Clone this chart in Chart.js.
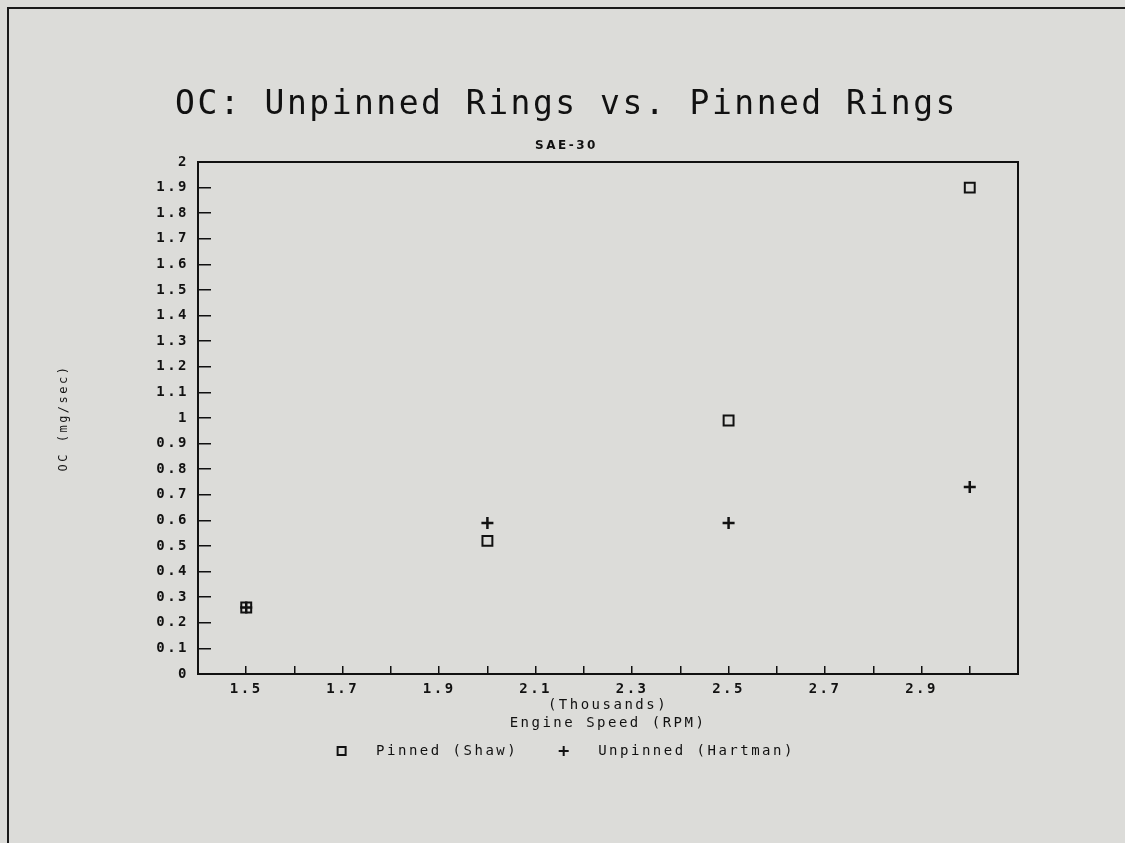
<!DOCTYPE html>
<html>
<head>
<meta charset="utf-8">
<script src="https://cdn.jsdelivr.net/npm/chart.js@4.4.1/dist/chart.umd.min.js"></script>
<style>
  html, body { margin: 0; padding: 0; background: #dcdcd9; }
  body { width: 1125px; height: 843px; overflow: hidden; position: relative; }
  #frame { position: absolute; left: 7px; top: 7px; right: -4px; bottom: -4px; border-top: 2px solid #1a1a1a; border-left: 2px solid #1a1a1a; }
  #wrap { position: absolute; left: 8px; top: 0; width: 1117px; height: 843px; }
</style>
</head>
<body>
<div id="frame"></div>
<div id="wrap"><canvas id="chart"></canvas></div>
<script>
// engine speed in thousands of RPM
const engineSpeed = [1.5, 2.0, 2.5, 3.0];
const pinnedShaw = [0.26, 0.52, 0.99, 1.90];
const unpinnedHartman = [0.26, 0.59, 0.59, 0.73];

// only every other x tick carries a label
const xTickLabels = [1.5, 1.7, 1.9, 2.1, 2.3, 2.5, 2.7, 2.9];
const yTickLabels = ["0", "0.1", "0.2", "0.3", "0.4", "0.5", "0.6", "0.7", "0.8", "0.9", "1",
                     "1.1", "1.2", "1.3", "1.4", "1.5", "1.6", "1.7", "1.8", "1.9", "2"];

const MONO = "'DejaVu Sans Mono', 'Liberation Mono', monospace";
const INK = "#111";

// legend marker images: the mark sits at the left of a wider transparent strip,
// so it lines up with the start of the legend box
function legendMark(kind) {
    const c = document.createElement("canvas");
    c.width = 36;
    c.height = 12;
    const g = c.getContext("2d");
    g.strokeStyle = INK;
    g.lineWidth = 2;
    if (kind === "square") {
        g.strokeRect(2, 2, 8, 8);
    } else {
        g.beginPath();
        g.moveTo(1, 6); g.lineTo(11, 6);
        g.moveTo(6, 1); g.lineTo(6, 11);
        g.stroke();
    }
    return c;
}
const legendMarks = [legendMark("square"), legendMark("cross")];

// plotter-style spaced lettering
const spacing = {
    id: "spacing",
    beforeUpdate(chart) { chart.ctx.letterSpacing = "2.5px"; },
    beforeLayout(chart) { chart.ctx.letterSpacing = "2.5px"; },
    beforeDraw(chart) { chart.ctx.letterSpacing = "2.5px"; }
};

// closed box round the plot area
const plotFrame = {
    id: "plotFrame",
    afterDraw(chart) {
        const a = chart.chartArea;
        const ctx = chart.ctx;
        ctx.save();
        ctx.strokeStyle = INK;
        ctx.lineWidth = 2;
        ctx.strokeRect(a.left, a.top, a.right - a.left, a.bottom - a.top);
        ctx.restore();
    }
};

new Chart(document.getElementById("chart"), {
    type: "scatter",
    data: {
        datasets: [
            {
                label: "Pinned (Shaw)",
                data: engineSpeed.map((x, i) => ({ x: x, y: pinnedShaw[i] })),
                pointStyle: "rect",
                pointRadius: 7,
                pointBorderWidth: 2,
                borderColor: INK,
                backgroundColor: "rgba(0,0,0,0)"
            },
            {
                label: "Unpinned (Hartman)",
                data: engineSpeed.map((x, i) => ({ x: x, y: unpinnedHartman[i] })),
                pointStyle: "cross",
                pointRadius: 6,
                pointBorderWidth: 2.5,
                borderColor: INK,
                backgroundColor: INK
            }
        ]
    },
    options: {
        responsive: true,
        maintainAspectRatio: false,
        animation: false,
        events: [],
        layout: { padding: { left: 0, right: 0, top: 0, bottom: 75 } },
        plugins: {
            title: {
                display: true,
                text: "OC: Unpinned Rings vs. Pinned Rings",
                color: INK,
                font: { family: MONO, size: 33, weight: "normal", lineHeight: 1.2 },
                padding: { top: 86, bottom: 0 }
            },
            subtitle: {
                display: true,
                text: "SAE-30",
                color: INK,
                font: { family: "'DejaVu Sans', sans-serif", size: 12, weight: "bold", lineHeight: 1.2 },
                padding: { top: 13, bottom: 9 }
            },
            legend: {
                position: "bottom",
                labels: {
                    usePointStyle: true,
                    pointStyleWidth: 31,
                    padding: 42,
                    color: INK,
                    font: { family: MONO, size: 14 },
                    generateLabels(chart) {
                        const items = Chart.defaults.plugins.legend.labels.generateLabels(chart);
                        items.forEach((it, i) => { it.pointStyle = legendMarks[i]; });
                        return items;
                    }
                }
            },
            tooltip: { enabled: false }
        },
        scales: {
            x: {
                type: "linear",
                position: "bottom",
                min: 1.4,
                max: 3.1,
                afterFit(scale) { scale.height = 28; },
                ticks: {
                    stepSize: 0.1,
                    autoSkip: false,
                    maxRotation: 0,
                    padding: 15,
                    color: INK,
                    font: { family: MONO, size: 14, weight: "bold" },
                    callback(value) {
                        const t = Math.round(value * 10) / 10;
                        return xTickLabels.includes(t) ? t.toFixed(1) : "";
                    }
                },
                grid: { drawOnChartArea: false, tickLength: -8, color: INK, lineWidth: 1.5 },
                border: { display: true, color: INK, width: 2 },
                title: {
                    display: true,
                    text: ["(Thousands)", "Engine Speed (RPM)"],
                    color: INK,
                    font: { family: MONO, size: 14, lineHeight: 1.29 },
                    padding: { top: 0, bottom: -30 }
                }
            },
            y: {
                type: "linear",
                position: "left",
                min: 0,
                max: 2,
                afterFit(scale) { scale.width = 190; },
                ticks: {
                    stepSize: 0.1,
                    autoSkip: false,
                    padding: 22,
                    color: INK,
                    font: { family: MONO, size: 14, weight: "bold" },
                    callback(value, index) { return yTickLabels[index]; }
                },
                grid: { drawOnChartArea: false, tickLength: -13, color: INK, lineWidth: 1.5 },
                border: { display: true, color: INK, width: 2 },
                title: {
                    display: true,
                    text: "OC (mg/sec)",
                    color: INK,
                    font: { family: MONO, size: 12 },
                    padding: { top: 49, bottom: 0 }
                }
            },
            // empty strip on the right so the title and legend centre on the page
            rightMargin: {
                type: "linear",
                position: "right",
                min: 0,
                max: 2,
                afterFit(scale) { scale.width = 107; },
                ticks: { display: false },
                grid: { display: false, drawTicks: false },
                border: { display: false }
            }
        }
    },
    plugins: [spacing, plotFrame]
});
</script>
</body>
</html>
